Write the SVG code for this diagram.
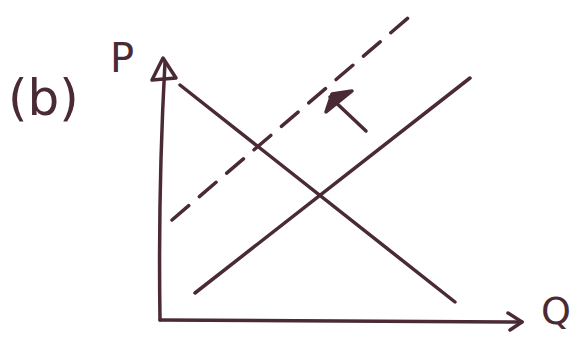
<svg xmlns="http://www.w3.org/2000/svg" width="578" height="338" viewBox="0 0 578 338">
<defs>
<style>
.ln{stroke:#4a2a35;stroke-width:3.5;fill:none;stroke-linecap:round;stroke-linejoin:round}
.fl{fill:#4a2a35}
.tx{font-family:"DejaVu Sans",sans-serif;fill:#4a2a35}
</style>
</defs>
<rect width="578" height="338" fill="#ffffff"/>
<g id="label-b"><text class="tx" x="8" y="115" font-size="50">(b)</text></g>
<g id="axis-y"><path class="ln" d="M160,320 Q158,190 165,62"/><path class="ln" d="M152,80 L163,58 L176,78 Z"/><text class="tx" x="110" y="72" font-size="40">P</text></g>
<g id="axis-x"><path class="ln" d="M160,320 L522,322"/><path class="ln" d="M508,313 L522,322 L510,330"/><text class="tx" x="541" y="324" font-size="38">Q</text></g>
<g id="connectors">
<path class="ln" d="M180,85 L455,302"/>
<path class="ln" d="M195,293 L470,78"/>
<path class="ln" d="M172,220 L415,12" stroke-dasharray="22,14"/>
<path class="ln" d="M366,131 L330,97"/>
<path class="ln fl" d="M326,112 L332,94 L352,91 Z"/>
</g>
</svg>
